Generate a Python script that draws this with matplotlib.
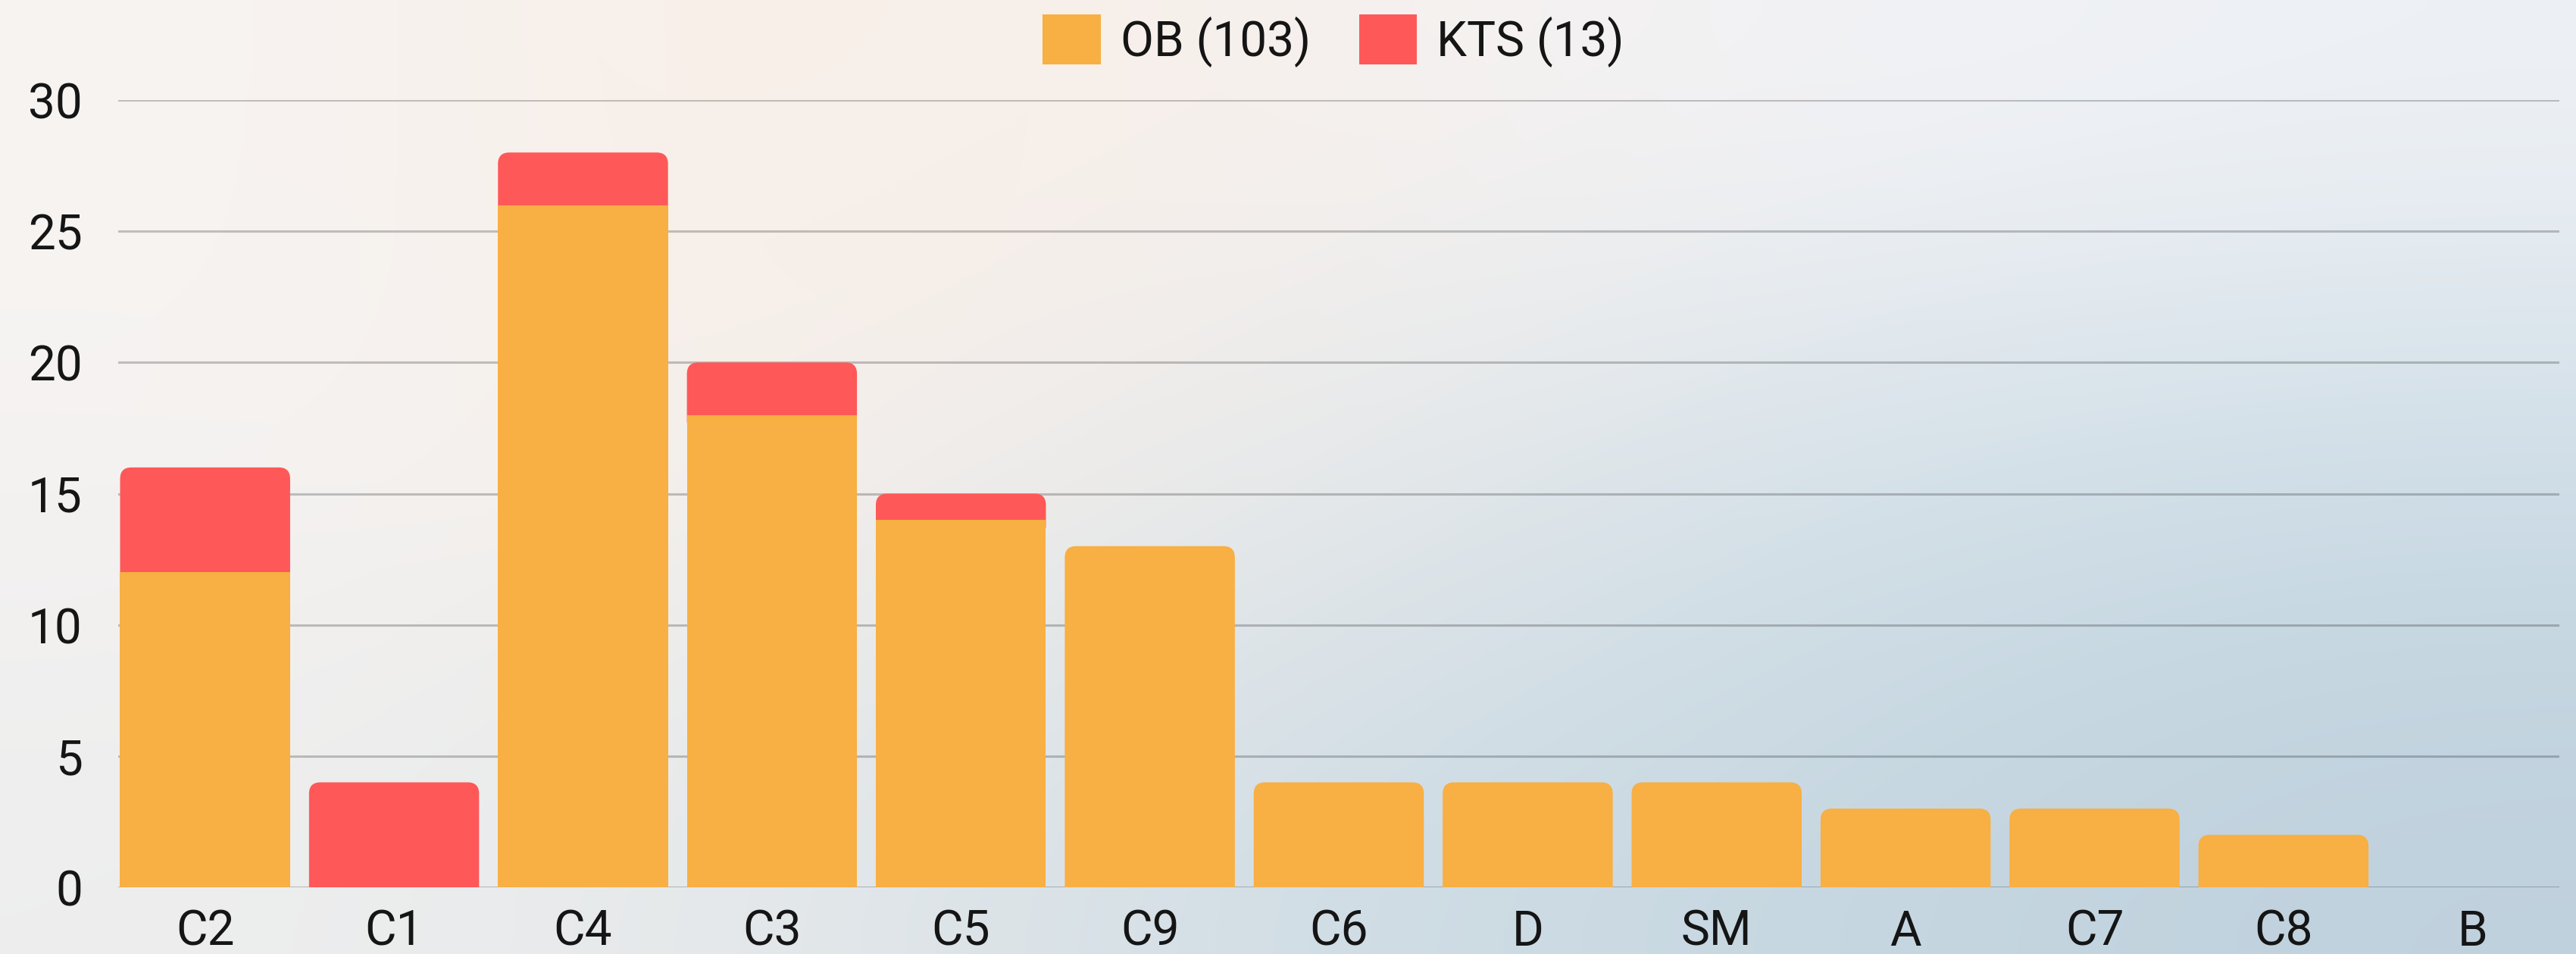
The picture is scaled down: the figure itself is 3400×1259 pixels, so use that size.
import numpy as np
import matplotlib
matplotlib.use("Agg")
import matplotlib.pyplot as plt
from matplotlib.patches import FancyBboxPatch, Patch

# ------------------------------------------------------------
# data
# ------------------------------------------------------------
categories = ["C2", "C1", "C4", "C3", "C5", "C9", "C6", "D", "SM", "A", "C7", "C8", "B"]
ob_values = [12, 0, 26, 18, 14, 13, 4, 4, 4, 3, 3, 2, 0]
kts_values = [4, 4, 2, 2, 1, 0, 0, 0, 0, 0, 0, 0, 0]
series_labels = [f"OB ({sum(ob_values)})", f"KTS ({sum(kts_values)})"]
y_ticks = [0, 5, 10, 15, 20, 25, 30]

OB_COLOR = "#F8AF43"
KTS_COLOR = "#FE5858"
TEXT_COLOR = "#151515"

plt.rcParams["font.family"] = ["Roboto", "DejaVu Sans"]

W, H, DPI = 3400, 1259, 200
fig = plt.figure(figsize=(W / DPI, H / DPI), dpi=DPI)

# ------------------------------------------------------------
# soft gradient background
# ------------------------------------------------------------
bg_colors = np.array([
    [(247, 244, 242), (249, 238, 230), (247, 241, 237), (243, 243, 246), (238, 241, 245)],
    [(245, 243, 242), (247, 240, 234), (233, 234, 235), (212, 225, 232), (204, 220, 230)],
    [(238, 238, 238), (228, 232, 234), (208, 221, 229), (198, 215, 225), (191, 209, 221)],
]) / 255.0
bg_ax = fig.add_axes([0, 0, 1, 1], zorder=-10)
bg_ax.imshow(bg_colors, aspect="auto", interpolation="bicubic", extent=[0, 1, 0, 1])
bg_ax.set_axis_off()

# ------------------------------------------------------------
# chart
# ------------------------------------------------------------
left, right = 156 / W, 3378 / W
bottom, top = 1 - 1171 / H, 1 - 132 / H
ax = fig.add_axes([left, bottom, right - left, top - bottom])
ax.patch.set_alpha(0)

x = np.arange(len(categories))
width = 0.9
ob = np.array(ob_values)
kts = np.array(kts_values)

ob_bars = ax.bar(x, ob, width, color=OB_COLOR, zorder=3)
kts_bars = ax.bar(x, kts, width, bottom=ob, color=KTS_COLOR, zorder=3)

ax.set_xlim(-0.46, len(categories) - 1 + 0.46)
ax.set_ylim(0, 30)

# rounded top corners on the top segment of each stack
ax_w_px = (right - left) * W
ax_h_px = (top - bottom) * H
x_per_px = (ax.get_xlim()[1] - ax.get_xlim()[0]) / ax_w_px
y_per_px = (ax.get_ylim()[1] - ax.get_ylim()[0]) / ax_h_px
aspect = y_per_px / x_per_px
radius_px = 15
r = radius_px * x_per_px
ry = radius_px * y_per_px * 1.5

for i in range(len(categories)):
    if kts[i] > 0:
        rect = kts_bars[i]
    elif ob[i] > 0:
        rect = ob_bars[i]
    else:
        continue
    bx, by = rect.get_x(), rect.get_y()
    bw, bh = rect.get_width(), rect.get_height()
    color = rect.get_facecolor()
    rect.set_visible(False)
    # extend downwards so the bottom corners hide under the segment below
    ax.add_patch(FancyBboxPatch((bx, by - ry), bw, bh + ry,
                                boxstyle=f"round,pad=0,rounding_size={r}",
                                mutation_aspect=aspect, facecolor=color,
                                edgecolor="none", zorder=2.5))

# axes styling
ax.set_yticks(y_ticks)
ax.set_xticks(x)
ax.set_xticklabels(categories)
ax.grid(axis="y", color="#000000", alpha=0.22, linewidth=1.1, zorder=1)
ax.tick_params(axis="both", length=0, labelsize=23, colors=TEXT_COLOR)
ax.tick_params(axis="y", pad=17)
ax.tick_params(axis="x", pad=10)
for s in ax.spines.values():
    s.set_visible(False)

# legend
handles = [Patch(facecolor=OB_COLOR, edgecolor="none"),
           Patch(facecolor=KTS_COLOR, edgecolor="none")]
leg = fig.legend(handles, series_labels, loc="center",
                 bbox_to_anchor=(1760 / W, 1 - 54 / H), ncol=2, frameon=False,
                 fontsize=23, handlelength=1.2, handleheight=1.2,
                 handletextpad=0.4, columnspacing=1.0, labelcolor=TEXT_COLOR)

fig.savefig("out.png", dpi=DPI)
